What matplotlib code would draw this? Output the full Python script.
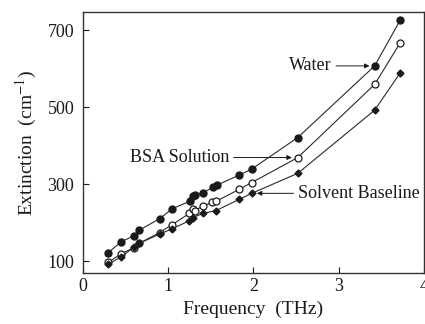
import matplotlib
matplotlib.use("Agg")
import matplotlib.pyplot as plt

plt.rcParams['font.family'] = ['Liberation Serif', 'DejaVu Serif']
plt.rcParams['mathtext.fontset'] = 'stix'

water_x = [0.30, 0.45, 0.60, 0.66, 0.90, 1.05, 1.26, 1.29, 1.31, 1.41, 1.53, 1.57, 1.83, 1.98, 2.52, 3.42, 3.72]
water_y = [122, 150, 166, 180, 210, 236, 256, 269, 272, 277, 293, 297, 323, 339, 421, 607, 726]

bsa_x = [0.30, 0.45, 0.60, 0.66, 0.90, 1.05, 1.25, 1.29, 1.31, 1.41, 1.52, 1.56, 1.83, 1.98, 2.52, 3.42, 3.72]
bsa_y = [97, 119, 135, 146, 174, 195, 224, 236, 231, 243, 253, 255, 286, 304, 369, 559, 667]

base_x = [0.30, 0.45, 0.60, 0.66, 0.90, 1.05, 1.25, 1.29, 1.41, 1.56, 1.83, 1.98, 2.52, 3.42, 3.72]
base_y = [92, 111, 136, 146, 170, 184, 205, 213, 224, 231, 260, 276, 328, 492, 589]

xticks = [0, 1, 2, 3, 4]
yticks = [100, 300, 500, 700]

fig = plt.figure(figsize=(4.25, 3.24), dpi=100)
ax = fig.add_axes([0.1946, 0.158, 0.998 - 0.1946, 0.963 - 0.158])

c = '#1a1a1a'
lc = '#2a2a2a'
ax.plot(water_x, water_y, '-', color=lc, lw=0.8, marker='o', ms=5, mfc=c, mec=c)
ax.plot(bsa_x, bsa_y, '-', color=lc, lw=0.8, marker='o', ms=5, mfc='white', mec=c, mew=0.9)
ax.plot(base_x, base_y, '-', color=lc, lw=0.8, marker='D', ms=3.5, mfc=c, mec=c)

ax.set_xlim(0, 4)
ax.set_ylim(69.6, 747)
ax.set_xticks(xticks)
ax.set_yticks(yticks)
ax.tick_params(direction='in', length=4, width=0.8, labelsize=13, colors=c, top=False, right=False)
ax.tick_params(axis='y', pad=6)
for s in ax.spines.values():
    s.set_linewidth(1.0)
    s.set_color('#333333')

ax.set_xlabel('Frequency  (THz)', fontsize=14, color=c, labelpad=4)
ax.set_ylabel('Extinction  (cm$^{-1}$)', fontsize=14, color=c, labelpad=6)

ap = dict(arrowstyle='-|>', lw=0.7, color=c, mutation_scale=7, shrinkA=1, shrinkB=0)
ax.annotate('Water', xy=(3.36, 607), xytext=(2.92, 607), ha='right', va='center',
            fontsize=13, color=c, arrowprops=ap)
ax.annotate('BSA Solution', xy=(2.45, 369), xytext=(1.72, 369), ha='right', va='center',
            fontsize=13, color=c, arrowprops=ap)
ax.annotate('Solvent Baseline', xy=(2.04, 276), xytext=(2.52, 276), ha='left', va='center',
            fontsize=13, color=c, arrowprops=ap)

fig.savefig('out.png', dpi=100)
